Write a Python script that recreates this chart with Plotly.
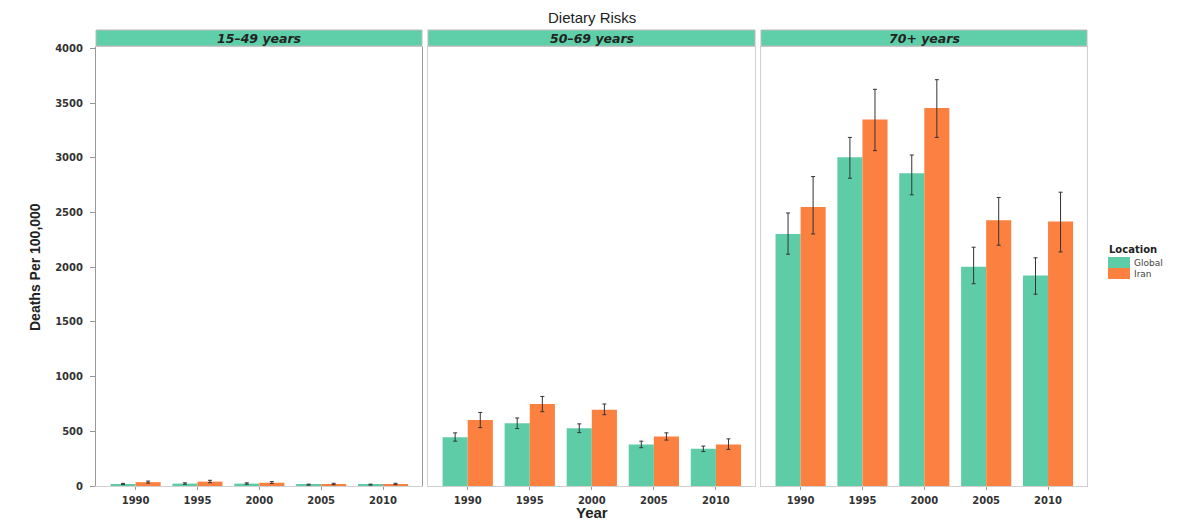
import plotly.graph_objects as go

years = ["1990", "1995", "2000", "2005", "2010"]
panels = ["15\u201349 years", "50\u201369 years", "70+ years"]
locations = ["Global", "Iran"]

global_vals = {
    "15\u201349 years": [18, 22, 22, 12, 12],
    "50\u201369 years": [446, 573, 528, 380, 340],
    "70+ years": [2305, 3006, 2860, 2005, 1926],
}
global_hi = {
    "15\u201349 years": [24, 29, 29, 17, 17],
    "50\u201369 years": [486, 622, 568, 410, 365],
    "70+ years": [2497, 3188, 3027, 2184, 2087],
}
global_lo = {
    "15\u201349 years": [13, 16, 16, 8, 8],
    "50\u201369 years": [410, 525, 488, 350, 315],
    "70+ years": [2120, 2815, 2663, 1850, 1754],
}
iran_vals = {
    "15\u201349 years": [35, 40, 30, 18, 18],
    "50\u201369 years": [604, 750, 698, 452, 380],
    "70+ years": [2551, 3352, 3458, 2430, 2418],
}
iran_hi = {
    "15\u201349 years": [45, 52, 40, 25, 25],
    "50\u201369 years": [673, 819, 750, 486, 431],
    "70+ years": [2830, 3628, 3716, 2639, 2687],
}
iran_lo = {
    "15\u201349 years": [26, 30, 22, 12, 12],
    "50\u201369 years": [534, 680, 652, 420, 335],
    "70+ years": [2305, 3067, 3188, 2202, 2141],
}
y_ticks = [0, 500, 1000, 1500, 2000, 2500, 3000, 3500, 4000]

GLOBAL_COLOR = "#5fcca8"
IRAN_COLOR = "#fc8040"
STRIP_COLOR = "#5ecfa8"
colors = {"Global": GLOBAL_COLOR, "Iran": IRAN_COLOR}

W, H = 1183, 521
px_dom = [(96, 422), (428, 755), (761, 1087)]
y_dom = [(H - 486) / H, (H - 47) / H]

fig = go.Figure()
for i, p in enumerate(panels):
    xa = "x" if i == 0 else f"x{i+1}"
    ya = "y" if i == 0 else f"y{i+1}"
    gv = global_vals[p]
    iv = iran_vals[p]
    fig.add_trace(go.Bar(
        x=years, y=gv, name="Global", marker_color=GLOBAL_COLOR,
        marker_line_width=0, offsetgroup="g", showlegend=False,
        legendgroup="Global", xaxis=xa, yaxis=ya,
        error_y=dict(type="data", symmetric=False,
                     array=[h - v for h, v in zip(global_hi[p], gv)],
                     arrayminus=[v - l for l, v in zip(global_lo[p], gv)],
                     color="#333333", thickness=1, width=2),
    ))
    fig.add_trace(go.Bar(
        x=years, y=iv, name="Iran", marker_color=IRAN_COLOR,
        marker_line_width=0, offsetgroup="i", showlegend=False,
        legendgroup="Iran", xaxis=xa, yaxis=ya,
        error_y=dict(type="data", symmetric=False,
                     array=[h - v for h, v in zip(iran_hi[p], iv)],
                     arrayminus=[v - l for l, v in zip(iran_lo[p], iv)],
                     color="#333333", thickness=1, width=2),
    ))

tick_font = dict(size=10, family="DejaVu Sans, sans-serif", color="#333", weight="bold")

layout = dict(
    template="none",
    width=W, height=H, autosize=False,
    margin=dict(l=0, r=0, t=0, b=0, pad=0, autoexpand=False),
    paper_bgcolor="white", plot_bgcolor="white",
    barmode="group", bargap=0.19, bargroupgap=0,
    font=dict(family="Liberation Sans, Arial, sans-serif", color="#222"),
    showlegend=False,
)
for i in range(3):
    xk = "xaxis" if i == 0 else f"xaxis{i+1}"
    yk = "yaxis" if i == 0 else f"yaxis{i+1}"
    ya = "y" if i == 0 else f"y{i+1}"
    x0, x1 = px_dom[i]
    layout[xk] = dict(
        domain=[x0 / W, x1 / W], anchor=ya, type="category", automargin=False,
        range=[-0.64, 4.63], showgrid=False, zeroline=False,
        showline=True, linecolor="#d0d0d0", linewidth=1, mirror=True,
        ticks="outside", ticklen=3, tickcolor="#999", ticklabelstandoff=2,
        tickfont=tick_font, fixedrange=True,
    )
    layout[yk] = dict(
        domain=list(y_dom), anchor="x" if i == 0 else f"x{i+1}", automargin=False,
        range=[0, 4015], showgrid=False, zeroline=False,
        showline=True, linecolor="#999" if i == 0 else "#d0d0d0", linewidth=1, mirror=True,
        tickvals=y_ticks if i == 0 else [],
        showticklabels=(i == 0),
        ticks="outside" if i == 0 else "", ticklen=5, tickcolor="#999",
        ticklabelstandoff=5,
        tickfont=tick_font, fixedrange=True,
    )
fig.update_layout(**layout)

shapes = []
annotations = []
for i, p in enumerate(panels):
    x0, x1 = px_dom[i]
    shapes.append(dict(type="rect", xref="paper", yref="paper",
                       x0=x0 / W, x1=x1 / W, y0=(H - 46) / H, y1=(H - 30) / H,
                       fillcolor=STRIP_COLOR, line=dict(color="#bbbbbb", width=1), layer="above"))
    annotations.append(dict(text=p, xref="paper", yref="paper",
                            x=(x0 + x1) / 2 / W, y=(H - 38) / H, showarrow=False,
                            xanchor="center", yanchor="middle",
                            font=dict(size=12.5, color="#222", family="DejaVu Sans, sans-serif",
                                      style="italic", weight="bold")))

# legend (ggplot-style compact keys)
annotations.append(dict(text="<b>Location</b>", xref="paper", yref="paper",
                        x=1107 / W, y=(H - 249) / H, showarrow=False,
                        xanchor="left", yanchor="middle",
                        font=dict(size=10, color="#222", family="DejaVu Sans, sans-serif")))
for k, loc in enumerate(locations):
    top = 257 + k * 11
    shapes.append(dict(type="rect", xref="paper", yref="paper",
                       x0=1108 / W, x1=1130 / W, y0=(H - top - 11) / H, y1=(H - top) / H,
                       fillcolor=colors[loc], line=dict(width=0)))
    annotations.append(dict(text=loc, xref="paper", yref="paper",
                            x=1132 / W, y=(H - top - 5.5) / H, showarrow=False,
                            xanchor="left", yanchor="middle",
                            font=dict(size=9, color="#444", family="DejaVu Sans, sans-serif")))

annotations.append(dict(text="Dietary Risks", xref="paper", yref="paper",
                        x=592 / W, y=(H - 17) / H, showarrow=False,
                        xanchor="center", yanchor="middle",
                        font=dict(size=15, color="#222")))
annotations.append(dict(text="<b>Deaths Per 100,000</b>", xref="paper", yref="paper",
                        x=35 / W, y=(H - 267) / H, showarrow=False, textangle=-90,
                        xanchor="center", yanchor="middle",
                        font=dict(size=14, color="#222", family="Liberation Sans Narrow, Arial Narrow, sans-serif")))
annotations.append(dict(text="<b>Year</b>", xref="paper", yref="paper",
                        x=592 / W, y=(H - 512) / H, showarrow=False,
                        xanchor="center", yanchor="middle",
                        font=dict(size=15, color="#222")))
fig.update_layout(shapes=shapes, annotations=annotations)

fig.write_html("out.html", config={"displayModeBar": False},
               post_script="document.body.style.margin='0';document.body.style.overflow='hidden';")
